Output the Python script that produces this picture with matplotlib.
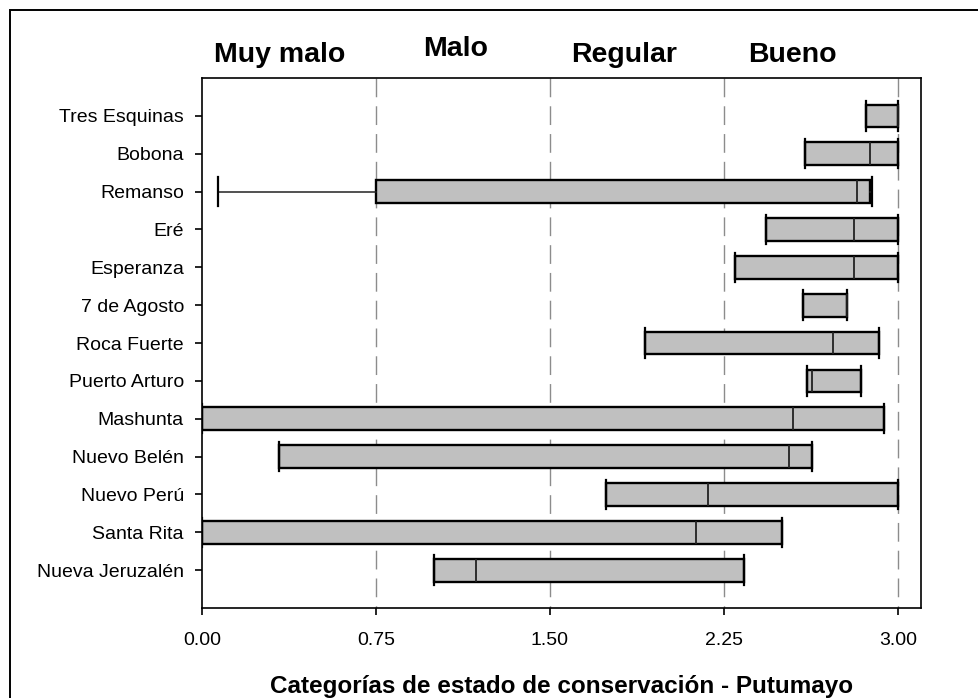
import matplotlib
matplotlib.use("Agg")
import matplotlib.pyplot as plt
from matplotlib.patches import Rectangle

plt.rcParams['font.family'] = ['Liberation Sans', 'DejaVu Sans']
plt.rcParams['lines.scale_dashes'] = False

# Sites listed top to bottom
sites = ["Tres Esquinas", "Bobona", "Remanso", "Eré", "Esperanza", "7 de Agosto",
         "Roca Fuerte", "Puerto Arturo", "Mashunta", "Nuevo Belén", "Nuevo Perú",
         "Santa Rita", "Nueva Jeruzalén"]
minimum = [2.862, 2.60, 0.07, 2.43, 2.30, 2.592, 1.91, 2.61, 0.00, 0.332, 1.742, 0.00, 1.00]
q1      = [2.862, 2.60, 0.75, 2.43, 2.30, 2.592, 1.91, 2.61, 0.00, 0.332, 1.742, 0.00, 1.00]
median  = [3.00, 2.879, 2.826, 2.81, 2.81, 2.78, 2.72, 2.63, 2.55, 2.531, 2.181, 2.13, 1.18]
q3      = [3.00, 3.00, 2.88, 3.00, 3.00, 2.78, 2.92, 2.84, 2.94, 2.629, 3.00, 2.50, 2.339]
maximum = [3.00, 3.00, 2.89, 3.00, 3.00, 2.78, 2.92, 2.84, 2.94, 2.629, 3.00, 2.50, 2.339]

category_labels = ["Muy malo", "Malo", "Regular", "Bueno"]
boundaries = [0.75, 1.50, 2.25, 3.00]
xticks = [0.00, 0.75, 1.50, 2.25, 3.00]
xlabel = "Categorías de estado de conservación - Putumayo"

W, H = 979, 698
fig = plt.figure(figsize=(W / 100, H / 100), dpi=100)
ax = fig.add_axes([202 / W, 1 - 608 / H, (921 - 202) / W, (608 - 78) / H])

n = len(sites)
positions = list(range(n, 0, -1))

for b in boundaries:
    ax.plot([b, b], [n + 1, 0], color='#8c8c8c', lw=1.0, dashes=(13.5, 6.5), zorder=1)

stats = []
for i in range(n):
    stats.append(dict(label=sites[i], whislo=minimum[i], q1=q1[i], med=median[i],
                      q3=q3[i], whishi=maximum[i], fliers=[]))

ax.bxp(stats, positions=positions, orientation='horizontal', widths=0.6, capwidths=0.78,
       patch_artist=True, showfliers=False, manage_ticks=False,
       boxprops=dict(facecolor='#c0c0c0', edgecolor='black', linewidth=1.7),
       medianprops=dict(color='#222222', linewidth=1.3),
       whiskerprops=dict(color='#222222', linewidth=1.1),
       capprops=dict(color='black', linewidth=1.6))

ax.set_xlim(0, 3.1)
ax.set_ylim(0, n + 1)
ax.set_yticks(positions)
ax.set_yticklabels(sites, fontsize=14)
ax.set_xticks(xticks)
ax.set_xticklabels([f"{v:.2f}" for v in xticks], fontsize=14)
ax.tick_params(axis='y', direction='out', length=5, width=1.2, pad=8)
ax.tick_params(axis='x', direction='out', length=5, width=1.2, pad=12)
for s in ax.spines.values():
    s.set_linewidth(1.2)

ax.set_xlabel(xlabel, fontsize=17.5, fontweight='bold', va='baseline')
ax.xaxis.set_label_coords(0.5, -(693 - 608) / (608 - 78))

label_x = [280, 456, 624, 792]
label_y = [62, 56, 62, 62]
for t, px, py in zip(category_labels, label_x, label_y):
    fig.text(px / W, 1 - py / H, t, ha='center', va='baseline', fontsize=20.5,
             fontweight='bold')

fig.add_artist(Rectangle((10 / W, -0.5), 2.0, 0.5 + 1 - 10 / H, transform=fig.transFigure,
                         fill=False, edgecolor='black', linewidth=1.4, clip_on=False))

fig.savefig("out.png", dpi=100)
